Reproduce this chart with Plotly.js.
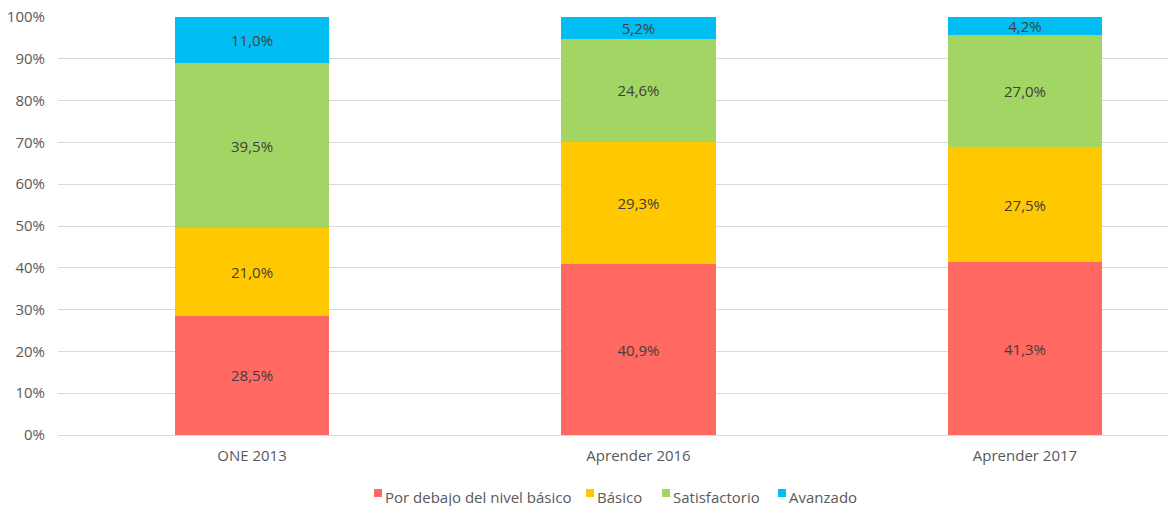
<!DOCTYPE html>
<html>
<head>
<meta charset="utf-8">
<script src="https://cdn.plot.ly/plotly-3.0.1.min.js"></script>
<style>html,body{margin:0;padding:0;background:#fff;}#chart{width:1168px;height:506px;}</style>
</head>
<body>
<div id="chart"></div>
<script>
const categories = ["ONE 2013", "Aprender 2016", "Aprender 2017"];
const porDebajo = [28.5, 40.9, 41.3];
const basico = [21.0, 29.3, 27.5];
const satisfactorio = [39.5, 24.6, 27.0];
const avanzado = [11.0, 5.2, 4.2];
const seriesNames = ["Por debajo del nivel básico", "Básico", "Satisfactorio", "Avanzado"];
const seriesColors = ["#ff6961", "#ffc800", "#a2d563", "#00bdf2"];
const yTicks = [0,10,20,30,40,50,60,70,80,90,100];
const yTickText = yTicks.map(v => v + "%");

const FONT = "Open Sans, Lato, sans-serif";
const FS = 15;
const allSeries = [porDebajo, basico, satisfactorio, avanzado];
const traces = allSeries.map((vals, i) => ({
  type: "bar",
  name: seriesNames[i],
  x: [0,1,2],
  y: vals,
  width: 0.4,
  marker: {color: seriesColors[i], line: {width: 0}},
  texttemplate: "%{y:.1f}%",
  textposition: "inside",
  insidetextanchor: "middle",
  textangle: 0,
  constraintext: "none",
  textfont: {family: FONT, size: FS, color: "#404040"},
  hoverinfo: "skip",
  showlegend: false
}));

// custom legend (pixel layout of the reference), converted to paper coords
const L = 58, W = 1110, B = 435, H = 418;
const px = v => (v - L) / W;
const py = v => (B - v) / H;
const legendX = [374, 586, 662, 778];
const shapes = [], annotations = [];
seriesNames.forEach((n, i) => {
  shapes.push({type: "rect", xref: "paper", yref: "paper",
    x0: px(legendX[i]), x1: px(legendX[i] + 8), y0: py(497), y1: py(489),
    fillcolor: seriesColors[i], line: {width: 0}});
  annotations.push({xref: "paper", yref: "paper", x: px(legendX[i] + 9), y: py(497),
    xanchor: "left", yanchor: "middle", showarrow: false, text: n,
    font: {family: FONT, size: FS, color: "#595959"}});
});

const layout = {
  width: 1168, height: 506,
  margin: {l: L, r: 0, t: 17, b: 71, pad: 0},
  barmode: "stack",
  separators: ",.",
  paper_bgcolor: "#fff", plot_bgcolor: "#fff",
  font: {family: FONT, size: FS, color: "#595959"},
  showlegend: false,
  shapes: shapes,
  annotations: annotations,
  xaxis: {range: [-0.502, 2.370], tickvals: [0,1,2], ticktext: categories, showgrid: false,
          zeroline: false, showline: false, ticks: "", ticklabelstandoff: 10,
          tickfont: {family: FONT, size: FS, color: "#595959"}, fixedrange: true},
  yaxis: {range: [0, 100], tickvals: yTicks, ticktext: yTickText, showgrid: true,
          gridcolor: "#d9d9d9", gridwidth: 1, zeroline: true, zerolinecolor: "#d9d9d9", zerolinewidth: 1,
          showline: false, ticks: "", ticklabelstandoff: 12,
          tickfont: {family: FONT, size: FS, color: "#595959"}, fixedrange: true}
};

Plotly.newPlot("chart", traces, layout, {displayModeBar: false, staticPlot: true});
</script>
</body>
</html>
